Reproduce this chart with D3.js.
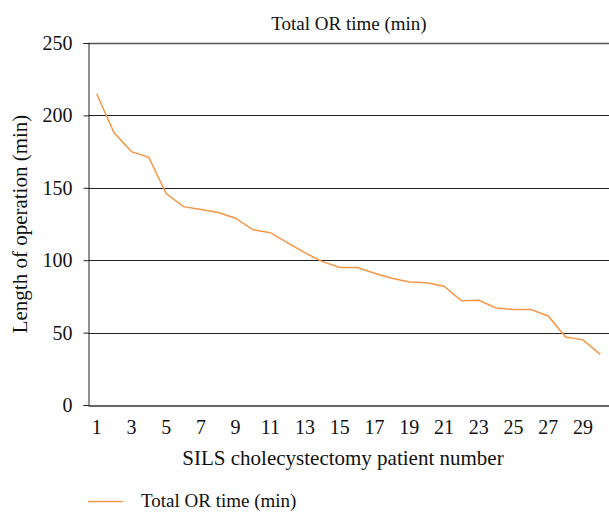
<!DOCTYPE html>
<html>
<head>
<meta charset="utf-8">
<script src="https://cdn.jsdelivr.net/npm/d3@7"></script>
<style>
  body { margin: 0; background: #fff; }
  svg text { font-family: "Liberation Serif", "DejaVu Serif", serif !important; fill: #111; }
</style>
</head>
<body>
<div id="vis"></div>
<script>
// ==== DATA ====
const patients = d3.range(1, 31);
const orTime = [215, 188, 175, 171, 146, 137, 135, 133, 129, 121,
                119, 112, 105, 99, 95, 95, 91, 87.5, 85, 84.5,
                82, 72, 72.3, 67, 66, 66, 61.5, 47, 45, 35];
const yTicks = [0, 50, 100, 150, 200, 250];
const xTickLabels = patients.filter(d => d % 2 === 1);

const width = 609, height = 513;
const margin = {top: 43, right: 0, bottom: 108, left: 88};
const font = "'Liberation Serif', 'DejaVu Serif', serif";

const svg = d3.select("#vis")
  .append("svg")
  .attr("width", width)
  .attr("height", height);

const x = d3.scaleBand()
  .domain(patients)
  .range([margin.left, width - margin.right]);

const y = d3.scaleLinear()
  .domain([0, 250])
  .range([height - margin.bottom, margin.top]);

// gridlines
svg.append("g")
  .selectAll("line")
  .data(yTicks.filter(d => d > 0))
  .enter()
  .append("line")
  .attr("x1", margin.left)
  .attr("x2", width - margin.right)
  .attr("y1", d => Math.round(y(d)) + 0.5)
  .attr("y2", d => Math.round(y(d)) + 0.5)
  .attr("stroke", d => d === 250 ? "#555" : "#222")
  .attr("stroke-width", d => d === 250 ? 1.5 : 1);

// y axis
const yAxis = svg.append("g")
  .attr("transform", `translate(${margin.left + 0.5},0)`)
  .call(d3.axisLeft(y).tickValues(yTicks).tickSize(5).tickPadding(11));
yAxis.attr("font-family", font);
yAxis.select(".domain").attr("stroke", "#222");
yAxis.selectAll(".tick line").attr("stroke", "#222");
yAxis.selectAll("text").style("font-size", "20px").style("font-family", font).attr("fill", "#111");

// x axis
const xAxis = svg.append("g")
  .attr("transform", `translate(0,${Math.round(y(0)) + 0.5})`)
  .call(d3.axisBottom(x).tickValues(xTickLabels).tickSize(0).tickPadding(14));
xAxis.attr("font-family", font);
xAxis.select(".domain").attr("stroke", "#333").attr("stroke-width", 1.5);
xAxis.selectAll("text").style("font-size", "20px").style("font-family", font).attr("fill", "#111");

// line
const line = d3.line()
  .x((d, i) => x(patients[i]) + x.bandwidth() / 2)
  .y(d => y(d));

svg.append("path")
  .datum(orTime)
  .attr("d", line)
  .attr("fill", "none")
  .attr("stroke", "#F79646")
  .attr("stroke-width", 1.5);

// titles
svg.append("text")
  .attr("x", 349)
  .attr("y", 30)
  .attr("text-anchor", "middle")
  .style("font-size", "19px")
  .style("font-family", font)
  .text("Total OR time (min)");

svg.append("text")
  .attr("transform", `translate(27,${(margin.top + height - margin.bottom) / 2}) rotate(-90)`)
  .attr("text-anchor", "middle")
  .style("font-size", "21px")
  .style("font-family", font)
  .text("Length of operation (min)");

svg.append("text")
  .attr("x", 343)
  .attr("y", 465)
  .attr("text-anchor", "middle")
  .style("font-size", "21px")
  .style("font-family", font)
  .text("SILS cholecystectomy patient number");

// legend
svg.append("line")
  .attr("x1", 88).attr("x2", 123)
  .attr("y1", 501.5).attr("y2", 501.5)
  .attr("stroke", "#F79646")
  .attr("stroke-width", 1.5);

svg.append("text")
  .attr("x", 141)
  .attr("y", 507)
  .style("font-size", "19px")
  .style("font-family", font)
  .text("Total OR time (min)");
</script>
</body>
</html>
